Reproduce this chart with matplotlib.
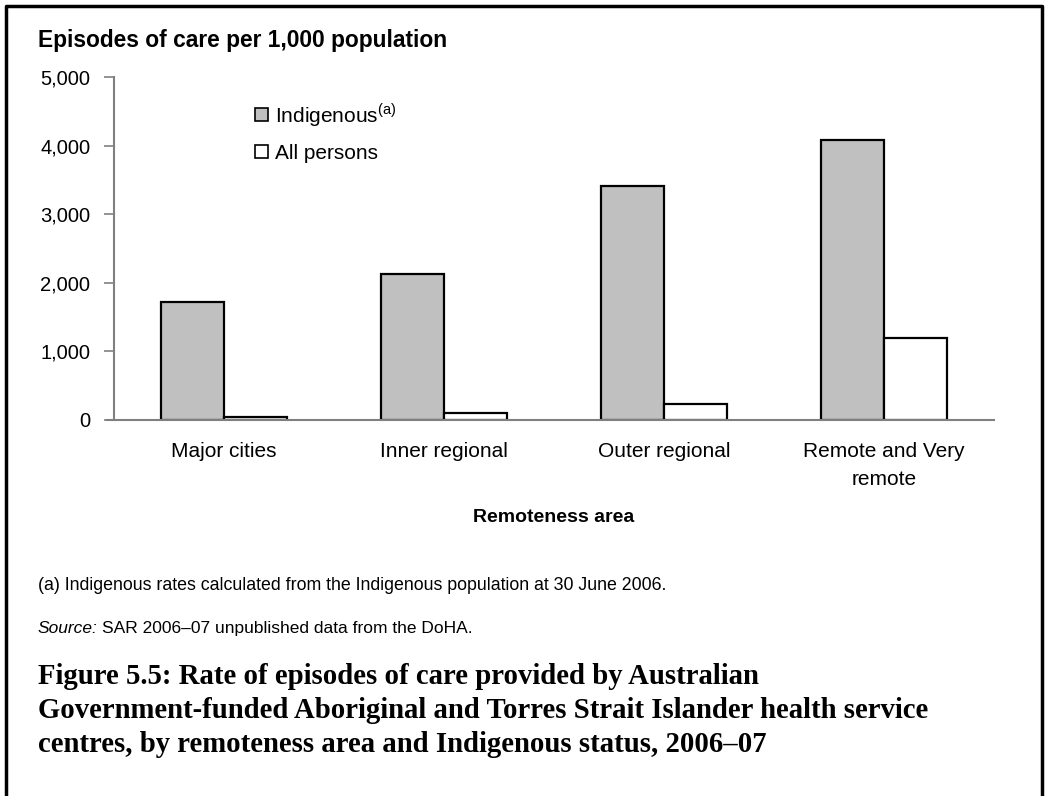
import matplotlib
matplotlib.use("Agg")
import matplotlib.pyplot as plt
from matplotlib.patches import Patch
from matplotlib.lines import Line2D
import numpy as np

categories = ["Major cities", "Inner regional", "Outer regional", "Remote and Very\nremote"]
indigenous = [1720, 2125, 3415, 4085]
all_persons = [30, 90, 231, 1193]
yticks = [0, 1000, 2000, 3000, 4000, 5000]

plt.rcParams['font.family'] = ['Liberation Sans', 'DejaVu Sans']
plt.rcParams['mathtext.fontset'] = 'custom'
plt.rcParams['mathtext.rm'] = 'Liberation Sans'

W, H = 1048, 796
fig = plt.figure(figsize=(W / 100, H / 100), dpi=100)
ax = fig.add_axes([114 / W, 1 - 419.5 / H, (994 - 114) / W, (419.5 - 77.3) / H])

x = np.arange(len(categories))
bw = 0.286
ax.bar(x - bw / 2, indigenous, width=bw, color='#c0c0c0', edgecolor='black', linewidth=1.6)
ax.bar(x + bw / 2, all_persons, width=bw, color='white', edgecolor='black', linewidth=1.6)

ax.set_xlim(-0.5, len(categories) - 0.5)
ax.set_ylim(0, 5000)
ax.set_yticks(yticks)
ax.set_yticklabels([f"{v:,}" for v in yticks], fontsize=14.5)
ax.set_xticks(x)
ax.set_xticklabels(categories, fontsize=15)
for lbl in ax.get_xticklabels():
    lbl.set_linespacing(1.65)
ax.tick_params(axis='x', length=0, pad=16)
ax.tick_params(axis='y', length=7, color='#808080', width=1.2, pad=10)
for s in ['top', 'right']:
    ax.spines[s].set_visible(False)
for s in ['left', 'bottom']:
    ax.spines[s].set_color('#808080')
    ax.spines[s].set_linewidth(1.5)
ax.spines['bottom'].set_bounds(-0.5 - 7 / 220, 3.5)

handles = [Patch(facecolor='#c0c0c0', edgecolor='black', linewidth=1.2),
           Patch(facecolor='white', edgecolor='black', linewidth=1.2)]
leg = ax.legend(handles, ['Indigenous$^{\\mathrm{(a)}}$', 'All persons'],
                loc='upper left', bbox_to_anchor=(133 / 880, 1 - 15 / 342), frameon=False,
                fontsize=15, handlelength=0.6, handleheight=0.6, handletextpad=0.35,
                labelspacing=0.75, borderaxespad=0)

fig.text(38 / W, 1 - 40 / H, "Episodes of care per 1,000 population", fontsize=16.4,
         fontweight='bold', va='center', ha='left')
fig.text(554 / W, 1 - 518 / H, "Remoteness area", fontsize=14, fontweight='bold',
         va='center', ha='center')
fig.text(38 / W, 1 - 585 / H, "(a) Indigenous rates calculated from the Indigenous population at 30 June 2006.",
         fontsize=12.8, va='center', ha='left')
t1 = fig.text(38 / W, 1 - 633 / H, "Source:", fontsize=12.5, style='italic', va='baseline', ha='left')
fig.canvas.draw()
bb = t1.get_window_extent()
fig.text(bb.x1 / W + 4 / W, 1 - 633 / H, "SAR 2006–07 unpublished data from the DoHA.",
         fontsize=12.5, va='baseline', ha='left')

caption_lines = ["Figure 5.5: Rate of episodes of care provided by Australian",
                 "Government-funded Aboriginal and Torres Strait Islander health service",
                 "centres, by remoteness area and Indigenous status, 2006–07"]
caption_y = [677, 711, 745]
for line, yy in zip(caption_lines, caption_y):
    fig.text(38 / W, 1 - yy / H, line, fontsize=20.7, fontweight='bold',
             family=['Liberation Serif', 'DejaVu Serif'], va='center', ha='left')

# border
bx = [6 / W, 6 / W, 1042 / W, 1042 / W]
by = [0, 1 - 6 / H, 1 - 6 / H, 0]
fig.add_artist(Line2D(bx, by, transform=fig.transFigure, color='black', linewidth=2.5))

fig.savefig("out.png", dpi=100)
